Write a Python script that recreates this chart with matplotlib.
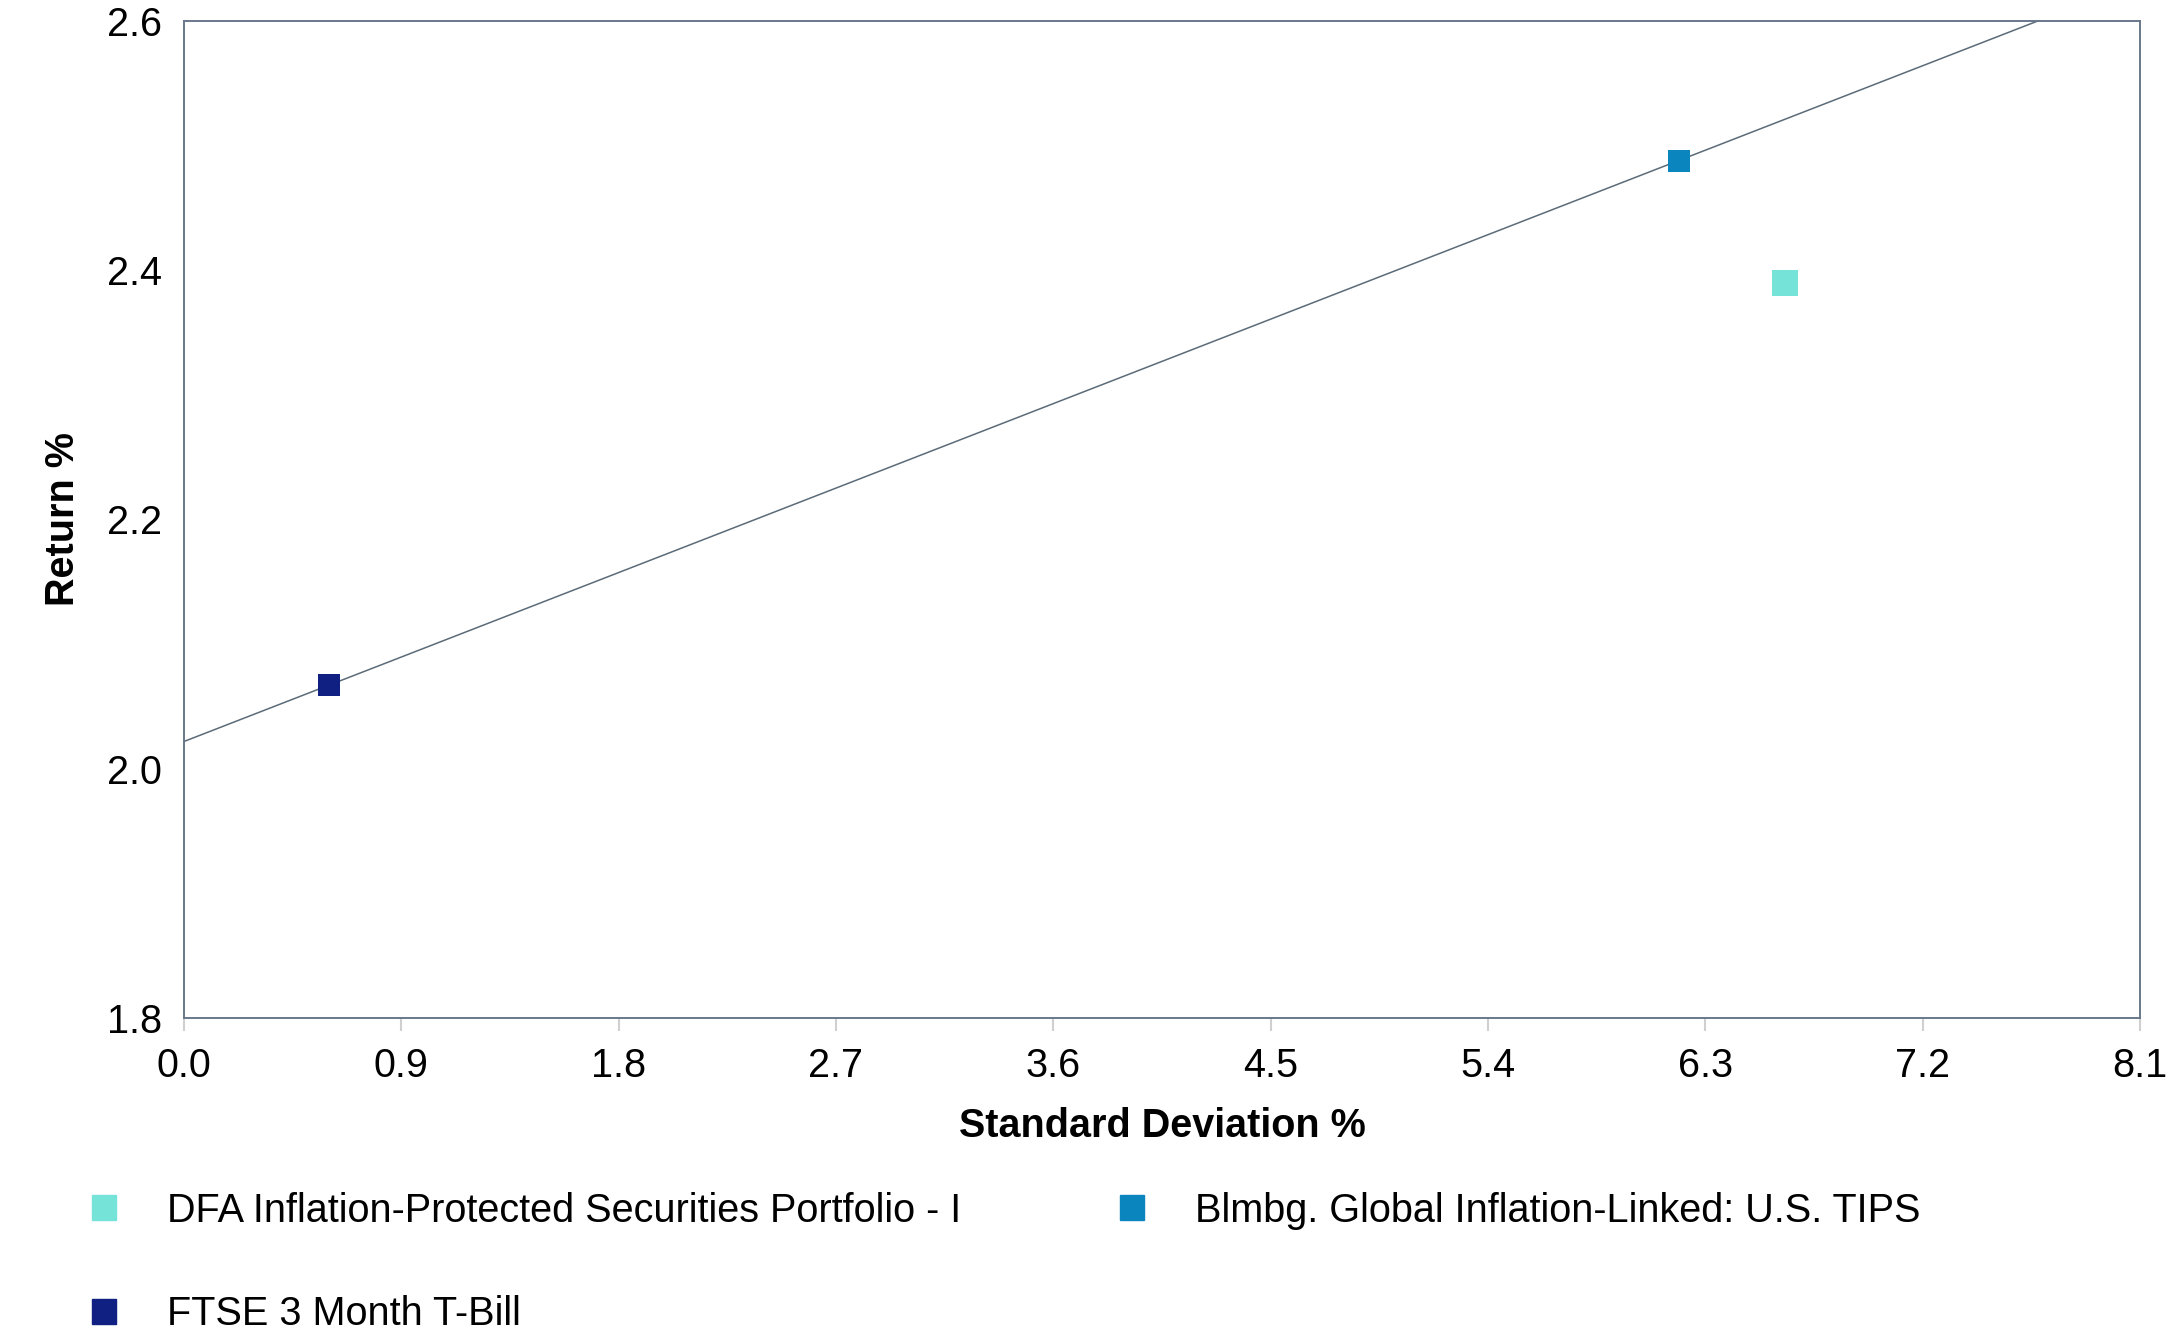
import matplotlib
matplotlib.use("Agg")
import matplotlib.pyplot as plt
from matplotlib.patches import Patch

plt.rcParams['font.family'] = ['Liberation Sans', 'DejaVu Sans']

names = ["DFA Inflation-Protected Securities Portfolio - I",
         "Blmbg. Global Inflation-Linked: U.S. TIPS",
         "FTSE 3 Month T-Bill"]
std_dev = [6.63, 6.19, 0.60]
returns = [2.39, 2.488, 2.067]
colors = ["#76E3D9", "#0A85BD", "#101F82"]
sizes = [19, 16, 16]

# capital market line: risk free (T-Bill) through the benchmark
line_x = [0.0, 8.1]
xticks = [0.0, 0.9, 1.8, 2.7, 3.6, 4.5, 5.4, 6.3, 7.2, 8.1]
yticks = [1.8, 2.0, 2.2, 2.4, 2.6]

fs = 28.5

fig = plt.figure(figsize=(21.77, 13.35), dpi=100)
ax = fig.add_axes([0.0845, 0.2375, 0.8985, 0.7468])

slope = (returns[1] - returns[2]) / (std_dev[1] - std_dev[2])
rf = returns[2] - slope * std_dev[2]
ax.plot(line_x, [rf + slope * x for x in line_x], color="#5B6B78", lw=1.1, zorder=2)

for i in range(3):
    ax.plot(std_dev[i], returns[i], marker="s", ls="none", ms=sizes[i],
            color=colors[i], mec=colors[i], mew=0, zorder=3)

ax.set_xlim(0, 8.1)
ax.set_ylim(1.8, 2.6)
ax.set_xticks(xticks)
ax.set_yticks(yticks)
ax.set_xticklabels(["%.1f" % t for t in xticks])
ax.set_yticklabels(["%.1f" % t for t in yticks])
ax.tick_params(axis="x", length=9, color="#D0D0D0", width=1.5, pad=12, labelsize=fs)
ax.tick_params(axis="y", length=0, pad=16, labelsize=fs)
for s in ax.spines.values():
    s.set_color("#68788A")
    s.set_linewidth(1.4)

ax.set_xlabel("Standard Deviation %", fontsize=fs, fontweight="bold", labelpad=16)
ax.set_ylabel("Return %", fontsize=fs, fontweight="bold", labelpad=18)

handles = [Patch(color=colors[0], label=names[0]),
           Patch(color=colors[2], label=names[2]),
           Patch(color=colors[1], label=names[1])]
fig.legend(handles=handles, ncol=2, loc="upper left", bbox_to_anchor=(0.026, 0.134),
           frameon=False, fontsize=fs, handlelength=0.6, handleheight=0.6,
           handletextpad=1.3, columnspacing=4.0, labelspacing=1.65)

fig.savefig("out.png", dpi=100)
